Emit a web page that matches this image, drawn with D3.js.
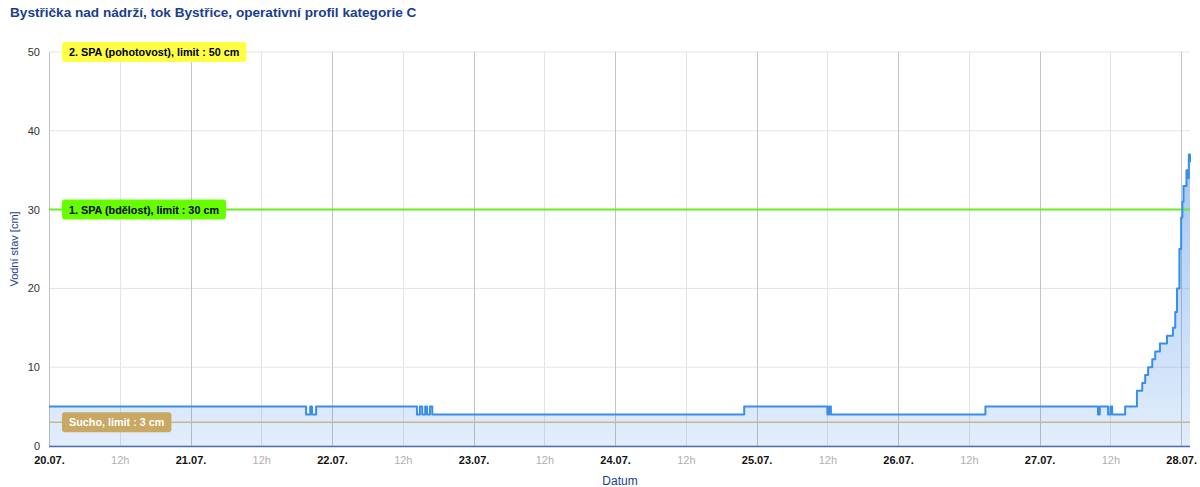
<!DOCTYPE html>
<html><head><meta charset="utf-8">
<script src="https://cdn.jsdelivr.net/npm/d3@7"></script>
<style>
body{margin:0;background:#fff;}
svg{display:block;font-family:"Liberation Sans",Arial,sans-serif;}
</style></head>
<body><svg id="c" width="1200" height="487"></svg>
<script>
const title = "Bystřička nad nádrží, tok Bystřice, operativní profil kategorie C";
const yLabel = "Vodní stav [cm]";
const xLabel = "Datum";
const times = ["2025-07-20T00:00","2025-07-21T19:36","2025-07-21T20:18","2025-07-21T20:36","2025-07-21T21:18",
"2025-07-22T14:24","2025-07-22T14:54","2025-07-22T15:18","2025-07-22T15:48","2025-07-22T16:06","2025-07-22T16:36","2025-07-22T17:00",
"2025-07-24T21:54","2025-07-25T12:00","2025-07-25T12:18","2025-07-25T12:36","2025-07-26T14:48",
"2025-07-27T09:54","2025-07-27T10:12","2025-07-27T11:36","2025-07-27T12:00","2025-07-27T12:18","2025-07-27T14:30",
"2025-07-27T16:30","2025-07-27T17:24","2025-07-27T17:54","2025-07-27T18:24","2025-07-27T19:06","2025-07-27T19:36",
"2025-07-27T20:24","2025-07-27T21:36","2025-07-27T22:36","2025-07-27T23:00","2025-07-27T23:18","2025-07-27T23:42",
"2025-07-28T00:00","2025-07-28T00:12","2025-07-28T00:24","2025-07-28T00:42","2025-07-28T00:54","2025-07-28T01:06",
"2025-07-28T01:18","2025-07-28T01:30"];
const levels = [5,4,5,4,5, 4,5,4,5,4,5,4, 5,4,5,4,5, 4,5,4,5,4,5, 7,8,9,10,11,12, 13,14,15,17,20,25, 29,31,33,33,35,34, 37,36];
const yTicks = [0,10,20,30,40,50];
const limitNames = ["2. SPA (pohotovost), limit : 50 cm","1. SPA (bdělost), limit : 30 cm","Sucho, limit : 3 cm"];
const limitValues = [50,30,3];
const limitColors = ["#ffff44","#66ff00","#c8a863"];
const limitTextColors = ["#000","#000","#fff"];
const limitLineColors = ["none","#66ee22","#c9b68e"];

const parse = d3.utcParse("%Y-%m-%dT%H:%M");
const data = times.map((t,i)=>({t:parse(t), v:levels[i]}));

const svg = d3.select("#c");
const L=49, R=1190, T=52, B=446;
const x = d3.scaleUtc().domain([data[0].t, data[data.length-1].t]).range([L,R]);
const y = d3.scaleLinear().domain([0,50]).range([B,T]);

svg.append("text").attr("x",10).attr("y",17).attr("font-size",13.6).attr("font-weight","bold")
  .attr("fill","#1a3d8f").text(title);

// horizontal grid
svg.append("g").selectAll("line").data(yTicks).join("line")
  .attr("x1",L).attr("x2",R).attr("y1",d=>y(d)).attr("y2",d=>y(d))
  .attr("stroke","#e4e4e4").attr("stroke-width",1);

// vertical grid
const halfDays = d3.utcHour.every(12).range(data[0].t, new Date(+data[data.length-1].t+1));
svg.append("g").selectAll("line").data(halfDays).join("line")
  .attr("x1",d=>Math.round(x(d))+0.5).attr("x2",d=>Math.round(x(d))+0.5).attr("y1",T).attr("y2",B)
  .attr("stroke",d=>d.getUTCHours()===0?"#c4c4c4":"#e4e4e4").attr("stroke-width",1);

// left axis line
svg.append("line").attr("x1",L+0.5).attr("x2",L+0.5).attr("y1",T).attr("y2",B).attr("stroke","#c4c4c4");

// area
const defs = svg.append("defs");
const g = defs.append("linearGradient").attr("id","ag").attr("gradientUnits","userSpaceOnUse")
  .attr("x1",0).attr("x2",0).attr("y1",T).attr("y2",B);
g.append("stop").attr("offset","0").attr("stop-color","#3282e6").attr("stop-opacity",0.55);
g.append("stop").attr("offset","1").attr("stop-color","#3282e6").attr("stop-opacity",0.14);
svg.append("path").datum(data)
  .attr("d",d3.area().curve(d3.curveStepAfter).x(d=>x(d.t)).y0(y(0)).y1(d=>y(d.v)))
  .attr("fill","url(#ag)");

// limit lines
limitValues.forEach((v,i)=>{
  if(limitLineColors[i]==="none") return;
  svg.append("line").attr("x1",L).attr("x2",R).attr("y1",y(v)).attr("y2",y(v))
    .attr("stroke",limitLineColors[i]).attr("stroke-width",i===1?2:1.5);
});

// series line
svg.append("path").datum(data)
  .attr("d",d3.line().curve(d3.curveStepAfter).x(d=>x(d.t)).y(d=>y(d.v)))
  .attr("fill","none").attr("stroke","#3a8ee8").attr("stroke-width",2).attr("stroke-linejoin","round");

// bottom axis line
svg.append("line").attr("x1",L).attr("x2",R).attr("y1",B+0.5).attr("y2",B+0.5)
  .attr("stroke","#4d6fa6").attr("stroke-width",1.5);

// y ticks
const ya = svg.append("g").attr("transform",`translate(${L},0)`)
  .call(d3.axisLeft(y).tickValues(yTicks).tickSize(0).tickPadding(9));
ya.select(".domain").remove();
ya.selectAll("text").attr("font-size",11).attr("fill","#333").attr("font-family","Liberation Sans, Arial, sans-serif");

// x ticks
const xa = svg.append("g").attr("transform",`translate(0,${B})`)
  .call(d3.axisBottom(x).tickValues(halfDays).tickSize(0).tickPadding(10)
    .tickFormat(d=>d.getUTCHours()===0?d3.utcFormat("%d.%m.")(d):"12h"));
xa.select(".domain").remove();
xa.selectAll("text").attr("font-size",11).attr("font-family","Liberation Sans, Arial, sans-serif")
  .attr("font-weight",d=>d.getUTCHours()===0?"bold":"normal")
  .attr("fill",d=>d.getUTCHours()===0?"#111":"#b0b0b0");

// axis titles
svg.append("text").attr("x",620).attr("y",485).attr("text-anchor","middle").attr("font-size",12)
  .attr("fill","#1a3d8f").text(xLabel);
svg.append("text").attr("transform",`translate(18,${(T+B)/2}) rotate(-90)`).attr("text-anchor","middle")
  .attr("font-size",11).attr("fill","#1a3d8f").text(yLabel);

// limit labels
limitValues.forEach((v,i)=>{
  const gl = svg.append("g").attr("transform",`translate(62,${y(v)})`);
  const t = gl.append("text").attr("x",7).attr("y",4).attr("font-size",10.8).attr("font-weight","bold")
    .attr("fill",limitTextColors[i]).text(limitNames[i]);
  const w = t.node().getComputedTextLength();
  gl.insert("rect","text").attr("x",0).attr("y",-10).attr("width",w+14).attr("height",20).attr("rx",3)
    .attr("fill",limitColors[i]);
});
</script></body></html>
